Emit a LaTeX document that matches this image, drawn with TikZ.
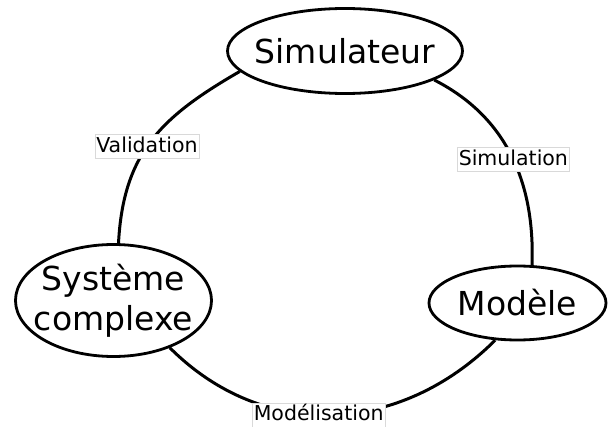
\documentclass[tikz,border=0pt]{standalone}
\usepackage{fontspec}
\setmainfont{DejaVu Sans}
\usetikzlibrary{shapes.geometric}
\begin{document}
\begin{tikzpicture}[x = 1pt, y = 1pt]
		\tikzstyle{every node} = [font = \fontsize{33}{40}\selectfont]
		\tikzstyle{bulle} = [draw, ellipse, line width = 2.8pt, inner sep = 0pt]
		\tikzstyle{lien} = [line width = 3pt]
		\tikzstyle{etiq} = [fill = white, draw = gray!30, line width = .5pt, inner xsep = 1.5pt, inner ysep = 2.5pt, text height = 15pt, text depth = 4pt, font = \fontsize{20.5}{24}\selectfont]
		\useasboundingbox (0,0) rectangle (608,426);

		\node[bulle, minimum width = 235pt, minimum height = 85pt, label = {center:Simulateur}] (sim) at (345,375) {};
		\node[bulle, minimum width = 196pt, minimum height = 112pt, label = {[align = center]center:Système\\complexe}] (sys) at (113.5,125.5) {};
		\node[bulle, minimum width = 177pt, minimum height = 74pt, label = {center:Modèle}] (mod) at (517.5,123) {};

		\draw[lien] (sys.85) to[out = 87, in = 210, looseness = 1.1] node[etiq, pos = .46] (val) {Validation} (sim.191); %sys to sim
		\draw[lien] (sim.342) to[out = -27, in = 88] node[etiq, pos = .52] (simu) {Simulation} (mod.69); %sim to mod
		\draw[lien] (sys.320) to[out = -45, in = 225, looseness = 1.05] node[etiq, pos = .46] (modl) {Modélisation} (mod.239); %sys to mod
	\end{tikzpicture}
\end{document}
